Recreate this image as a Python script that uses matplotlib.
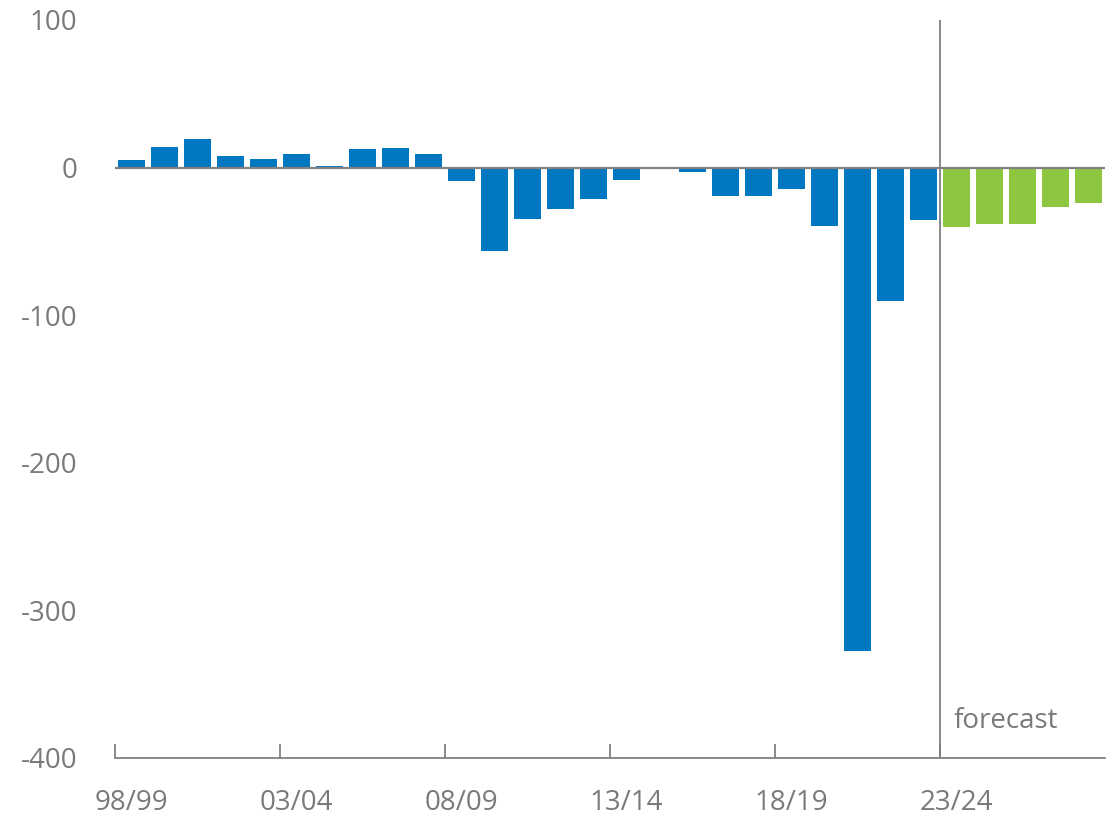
import matplotlib
matplotlib.use("Agg")
import matplotlib.pyplot as plt
import numpy as np

# Fiscal years 98/99 .. 27/28
years = [f"{y % 100:02d}/{(y + 1) % 100:02d}" for y in range(1998, 2028)]

# Actuals 98/99 .. 22/23
actual = [5.4, 13.9, 19.6, 7.8, 6.1, 9.0, 1.1, 12.9, 13.5, 9.5,
          -9.1, -56.4, -35.0, -28.2, -21.4, -8.6, 0.0, -3.0, -19.2, -19.2,
          -14.2, -39.5, -327.7, -90.5, -35.7]
# Forecast 23/24 .. 27/28
forecast = [-40.2, -38.4, -38.4, -27.0, -23.7]

yticks = [100, 0, -100, -200, -300, -400]

BLUE = "#0077c1"
GREEN = "#8dc63f"
GREY = "#808080"
TEXT = "#7a7a7a"

plt.rcParams["font.family"] = ["Open Sans", "DejaVu Sans"]

fig = plt.figure(figsize=(11.19, 8.23), dpi=100)
ax = fig.add_axes([0.1028, 0.079, 0.8847, 0.8967])

n_act = len(actual)
x_act = np.arange(n_act)
x_fc = np.arange(n_act, n_act + len(forecast))

ax.bar(x_act, actual, width=0.8, color=BLUE, zorder=2)
ax.bar(x_fc, forecast, width=0.8, color=GREEN, zorder=2)

ax.axhline(0, color=GREY, lw=1.6, zorder=3)
ax.axvline(n_act - 0.5, color=GREY, lw=1.3, zorder=3)
ax.text(n_act - 0.1, -375, "forecast", color=TEXT, fontsize=20,
        ha="left", va="center")

ax.set_xlim(-0.5, len(years) - 0.5)
ax.set_ylim(-400, 100)

ax.set_yticks(yticks)
ax.set_yticklabels([str(v) for v in yticks])
ax.tick_params(axis="y", length=0, pad=27, labelsize=20, labelcolor=TEXT)

major = np.arange(0, len(years), 5)
ax.set_xticks(major)
ax.set_xticklabels([years[i] for i in major])
ax.set_xticks(major - 0.5, minor=True)
ax.tick_params(axis="x", which="major", length=0, pad=22,
               labelsize=20, labelcolor=TEXT)
ax.tick_params(axis="x", which="minor", direction="in", length=10,
               width=1.3, color=GREY)

for s in ["top", "right", "left"]:
    ax.spines[s].set_visible(False)
ax.spines["bottom"].set_color(GREY)
ax.spines["bottom"].set_linewidth(1.3)

fig.savefig("out.png", dpi=100)
